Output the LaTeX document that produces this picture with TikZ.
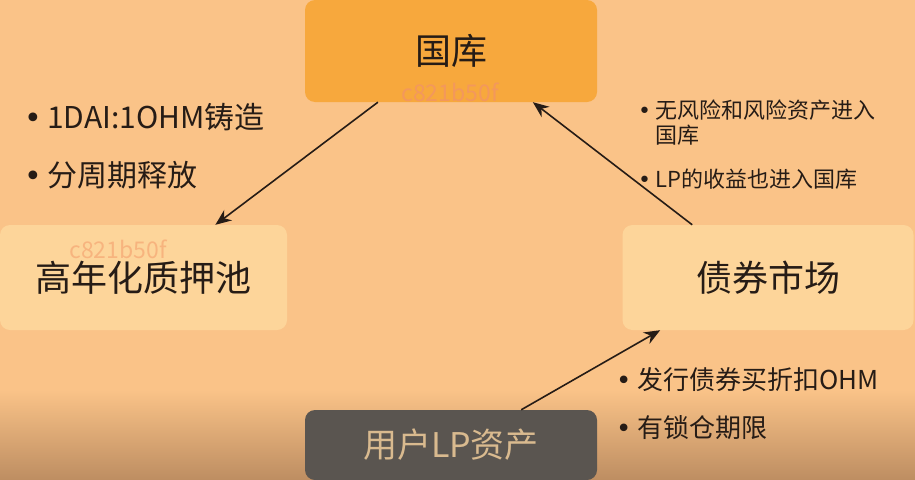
\documentclass[tikz,border=0pt]{standalone}
\usepackage{fontspec}
\setmainfont{Noto Sans CJK SC}
\newfontfamily\simbolo{DejaVu Sans}
\usepackage{xcolor}
\usetikzlibrary{arrows.meta, calc}
\definecolor{fundo}{RGB}{250,195,136}
\definecolor{fundoescuro}{RGB}{190,142,98}
\definecolor{laranja}{RGB}{247,168,61}
\definecolor{creme}{RGB}{253,213,154}
\definecolor{cinza}{RGB}{90,85,80}
\definecolor{areia}{RGB}{217,186,143}
\definecolor{tinta}{RGB}{38,28,22}
\definecolor{marca}{RGB}{242,148,100}
\newcommand{\marcador}[1]{\makebox[#1][l]{\simbolo •}}
\tikzset{
    caixa/.style={rounded corners=10pt, inner sep=0pt, text=tinta, font=\fontsize{36}{40}\selectfont},
    nota/.style={inner sep=0pt, text=tinta, align=left},
    seta/.style={-{Stealth[length=16pt, width=13pt]}, line width=1.6pt, tinta},
    selo/.style={text=marca, opacity=0.8, inner sep=0pt, font=\fontsize{23}{23}\selectfont}
}

\begin{document}
\begin{tikzpicture}[x=1pt, y=-1pt]
    \useasboundingbox (0,0) rectangle (915,479);
    \fill[fundo] (0,0) rectangle (915,479);
    \shade[top color=fundo, bottom color=fundoescuro] (0,390) rectangle (915,479);

    % caixas
    \node[caixa, fill=laranja, minimum width=292pt, minimum height=102pt] (tesouro) at (451,51) {国库};
    \node[caixa, fill=creme, minimum width=287pt, minimum height=105pt] (pool) at (143.5,277.5) {高年化质押池};
    \node[caixa, fill=creme, minimum width=291pt, minimum height=105pt] (mercado) at (768,277.5) {债券市场};
    \node[caixa, fill=cinza, text=areia, minimum width=292pt, minimum height=70pt,
          font=\fontsize{34}{38}\selectfont] (usuario) at (451,445) {用户LP资产};

    \node[selo] (wm1) at (450,92) {c821b50f};
    \node[selo, opacity=0.5] (wm2) at (118,249) {c821b50f};

    % notas
    \node[nota, anchor=west, font=\fontsize{30}{33}\selectfont] (l1) at (24,117) {\marcador{23pt}1DAI:1OHM铸造};
    \node[nota, anchor=west, font=\fontsize{30}{33}\selectfont] (l2) at (24,175) {\marcador{23pt}分周期释放};
    \node[nota, anchor=north west, font=\fontsize{22}{25}\selectfont] (r1) at (638,100)
        {\marcador{17pt}无风险和风险资产进入\\\hspace*{17pt}国库};
    \node[nota, anchor=west, font=\fontsize{22}{25}\selectfont] (r2) at (638,179)
        {\marcador{17pt}LP的收益也进入国库};
    \node[nota, anchor=west, font=\fontsize{26}{29}\selectfont] (b1) at (616,380)
        {\marcador{21pt}发行债券买折扣OHM};
    \node[nota, anchor=west, font=\fontsize{26}{29}\selectfont] (b2) at (616,428)
        {\marcador{21pt}有锁仓期限};

    % setas
    \draw[seta] ($(tesouro.south west)!0.25!(tesouro.south east)$) -- ($(pool.north west)!0.75!(pool.north east)$);
    \draw[seta] ($(mercado.north west)!0.24!(mercado.north east)$) -- ($(tesouro.south west)!0.78!(tesouro.south east)$);
    \draw[seta] ($(usuario.north west)!0.74!(usuario.north east)$) -- ($(mercado.south west)!0.13!(mercado.south east)$);
\end{tikzpicture}
\end{document}
